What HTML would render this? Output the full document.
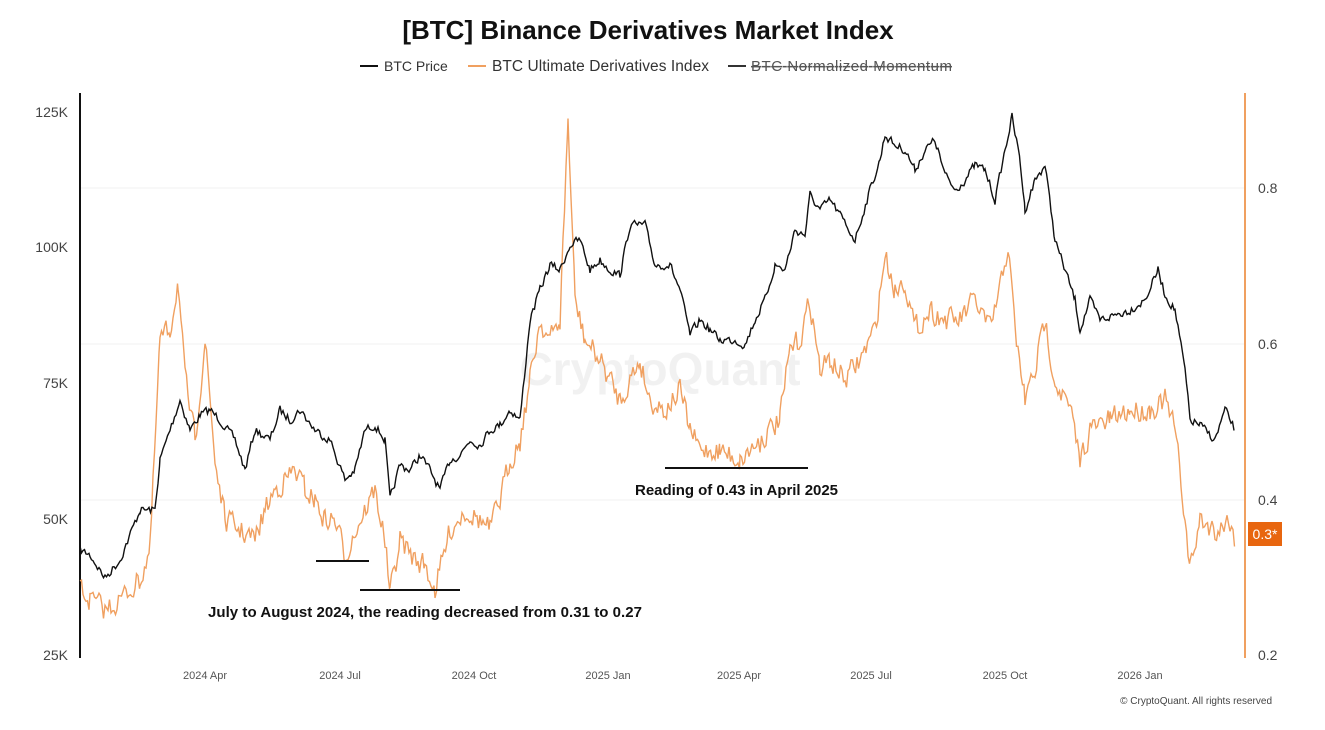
<!DOCTYPE html>
<html><head><meta charset="utf-8"><style>
body{margin:0;background:#fff;width:1325px;height:725px;overflow:hidden;font-family:"Liberation Sans",sans-serif}
</style></head><body>
<svg id="s" width="1325" height="725" xmlns="http://www.w3.org/2000/svg" font-family="Liberation Sans, sans-serif">
<text x="648" y="39" text-anchor="middle" font-size="26" font-weight="bold" fill="#111">[BTC] Binance Derivatives Market Index</text>
<line x1="360" y1="66" x2="378" y2="66" stroke="#111" stroke-width="2"/>
<text x="384" y="71" font-size="14" fill="#333">BTC Price</text>
<line x1="468" y1="66" x2="486" y2="66" stroke="#f0a060" stroke-width="2"/>
<text x="492" y="71" font-size="15.5" fill="#333" textLength="217">BTC Ultimate Derivatives Index</text>
<line x1="728" y1="66" x2="746" y2="66" stroke="#333" stroke-width="2"/>
<text x="751" y="71" font-size="15" fill="#555" text-decoration="line-through" textLength="201">BTC Normalized Momentum</text>
<g stroke="#f2f2f2" stroke-width="1">
<line x1="80" x2="1245" y1="188" y2="188"/><line x1="80" x2="1245" y1="344" y2="344"/><line x1="80" x2="1245" y1="500" y2="500"/>
</g>
<text x="660" y="385" text-anchor="middle" font-size="46" font-weight="bold" fill="#000" opacity="0.05">CryptoQuant</text>
<g font-size="14" fill="#444" text-anchor="end">
<text x="68" y="117">125K</text><text x="68" y="252">100K</text><text x="68" y="388">75K</text><text x="68" y="524">50K</text><text x="68" y="660">25K</text>
</g>
<g font-size="14" fill="#444">
<text x="1258" y="193">0.8</text><text x="1258" y="349">0.6</text><text x="1258" y="505">0.4</text><text x="1258" y="660">0.2</text>
</g>
<g font-size="11" fill="#555" text-anchor="middle">
<text x="205" y="679">2024 Apr</text><text x="340" y="679">2024 Jul</text><text x="474" y="679">2024 Oct</text><text x="608" y="679">2025 Jan</text><text x="739" y="679">2025 Apr</text><text x="871" y="679">2025 Jul</text><text x="1005" y="679">2025 Oct</text><text x="1140" y="679">2026 Jan</text>
</g>
<text x="1272" y="704" text-anchor="end" font-size="10" fill="#444">© CryptoQuant. All rights reserved</text>
<line x1="80" y1="93" x2="80" y2="658" stroke="#111" stroke-width="2"/>
<line x1="1245" y1="93" x2="1245" y2="658" stroke="#f0a060" stroke-width="2"/>
<path id="idx" fill="none" stroke="#f0a060" stroke-width="1.4"/>
<path id="px" fill="none" stroke="#111" stroke-width="1.4"/>
<g stroke="#111" stroke-width="2">
<line x1="316" x2="369" y1="561" y2="561"/><line x1="360" x2="460" y1="590" y2="590"/><line x1="665" x2="808" y1="468" y2="468"/>
</g>
<text x="208" y="617" font-size="15" font-weight="bold" fill="#111" textLength="434">July to August 2024, the reading decreased from 0.31 to 0.27</text>
<text x="635" y="495" font-size="15" font-weight="bold" fill="#111" textLength="203">Reading of 0.43 in April 2025</text>
<rect x="1248" y="522" width="34" height="24" fill="#e8660f"/>
<text x="1265" y="539" text-anchor="middle" font-size="14" fill="#fff">0.3*</text>
</svg>
<script>
var P=[80,550,90,555,105,578,120,560,140,510,155,510,160,460,170,430,180,400,190,430,200,415,210,410,220,420,235,440,245,470,255,430,270,440,280,410,290,420,300,410,315,430,330,440,345,480,355,470,365,430,375,425,385,440,390,500,400,465,410,470,420,455,430,470,440,490,450,460,460,455,470,440,480,445,490,430,500,425,510,410,520,420,530,320,540,290,550,265,560,270,570,245,580,240,590,270,600,260,610,270,620,275,630,225,645,225,655,265,670,265,680,290,690,335,700,320,710,330,720,340,735,340,745,345,755,320,765,300,775,265,785,270,795,230,805,235,810,195,820,210,830,200,840,215,855,240,870,190,880,160,885,135,895,145,905,150,915,170,925,150,935,140,945,175,955,190,965,180,975,165,985,170,995,200,1005,150,1012,117,1020,160,1025,210,1035,180,1045,165,1055,240,1065,270,1075,300,1080,330,1090,300,1100,320,1115,315,1130,310,1145,300,1158,270,1165,295,1175,310,1185,370,1190,420,1200,425,1215,440,1225,410,1235,430];
var I=[80,590,90,600,105,610,120,600,140,580,150,550,160,340,170,330,178,280,185,380,195,440,205,340,215,460,225,520,240,530,255,540,265,510,275,490,285,480,295,470,305,490,315,500,325,520,335,520,345,555,360,520,375,490,385,540,390,595,400,540,415,560,425,565,435,590,450,530,465,510,480,520,490,530,500,500,510,460,520,440,530,380,540,320,550,340,560,320,568,120,575,300,585,340,600,360,610,380,620,400,630,380,640,360,650,400,665,410,680,390,690,430,700,450,720,450,740,460,760,440,780,420,790,350,800,340,810,300,820,370,830,360,845,380,860,360,875,330,885,255,895,290,905,280,915,330,930,310,945,320,960,320,975,300,990,330,1000,290,1008,245,1015,330,1025,400,1035,370,1045,320,1055,380,1070,410,1080,460,1090,430,1110,420,1130,410,1150,410,1165,400,1175,430,1182,490,1190,570,1200,520,1215,530,1230,520,1235,540];
var seed=7;function r(){seed=(seed*16807)%2147483647;return seed/2147483647-0.5;}
function build(a,amp){var d="",n=0,prev=0;for(var i=0;i<a.length-2;i+=2){var x0=a[i],y0=a[i+1],x1=a[i+2],y1=a[i+3];var last=(i+4>=a.length);for(var x=x0;x<x1||(last&&x<=x1);x+=1.5){var t=(x-x0)/(x1-x0);var y=y0+(y1-y0)*t;prev=prev*0.3+r()*amp;var yy=y+prev;d+=(n++?"L":"M")+x.toFixed(1)+" "+yy.toFixed(1);}}return d;}
document.getElementById("px").setAttribute("d",build(P,8));
document.getElementById("idx").setAttribute("d",build(I,22));
</script>
</body></html>
